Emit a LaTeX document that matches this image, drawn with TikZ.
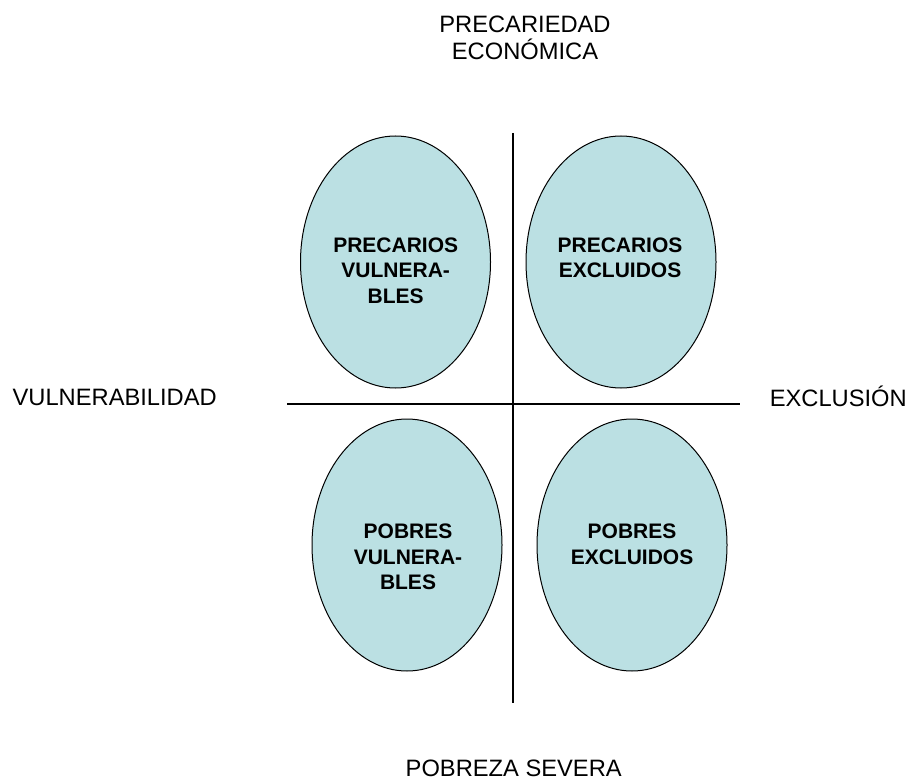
\documentclass[tikz,border=0pt]{standalone}
\usepackage{fontspec}
\setmainfont{Liberation Sans}
\usetikzlibrary{shapes.geometric}
\definecolor{celeste}{RGB}{187,224,227}

\begin{document}
\begin{tikzpicture}[x=1pt,y=-1pt,
		grupo/.style={ellipse,draw=black,line width=1pt,fill=celeste,minimum width=190pt,minimum height=252pt,inner sep=0pt},
		rotulo/.style={align=center,inner sep=0pt,anchor=north,font=\fontsize{21}{25.5}\selectfont\bfseries},
		eje/.style={inner sep=0pt,font=\fontsize{23.7}{27}\selectfont}]
			\useasboundingbox (0,0) rectangle (910,781);

			\node[grupo] (pv) at (395.5,262) {};
			\node[grupo] (pe) at (621,262) {};
			\node[grupo] (bv) at (407,545) {};
			\node[grupo] (be) at (632,545) {};

			\coordinate (arriba) at (513,133);
			\coordinate (abajo) at (513,703);
			\coordinate (izq) at (287,404);
			\coordinate (der) at (740,404);
			\draw[line width=1.5pt] (arriba) -- (abajo);
			\draw[line width=1.5pt] (izq) -- (der);

			\node[rotulo] (tpv) at (395.7,237.3) {PRECARIOS\\VULNERA-\\BLES};
			\node[rotulo] (tpe) at (620,237.3) {PRECARIOS\\EXCLUIDOS};
			\node[rotulo] (tbv) at (408,524) {POBRES\\VULNERA-\\BLES};
			\node[rotulo] (tbe) at (632,524) {POBRES\\EXCLUIDOS};

			\node[eje,align=center,anchor=north] (prec) at (525,16) {PRECARIEDAD\\ECONÓMICA};
			\node[eje,anchor=base] (vuln) at (114.7,405.7) {VULNERABILIDAD};
			\node[eje,anchor=base] (excl) at (838.3,406) {EXCLUSIÓN};
			\node[eje,anchor=base] (pobr) at (513.7,776) {POBREZA SEVERA};
		\end{tikzpicture}
\end{document}
